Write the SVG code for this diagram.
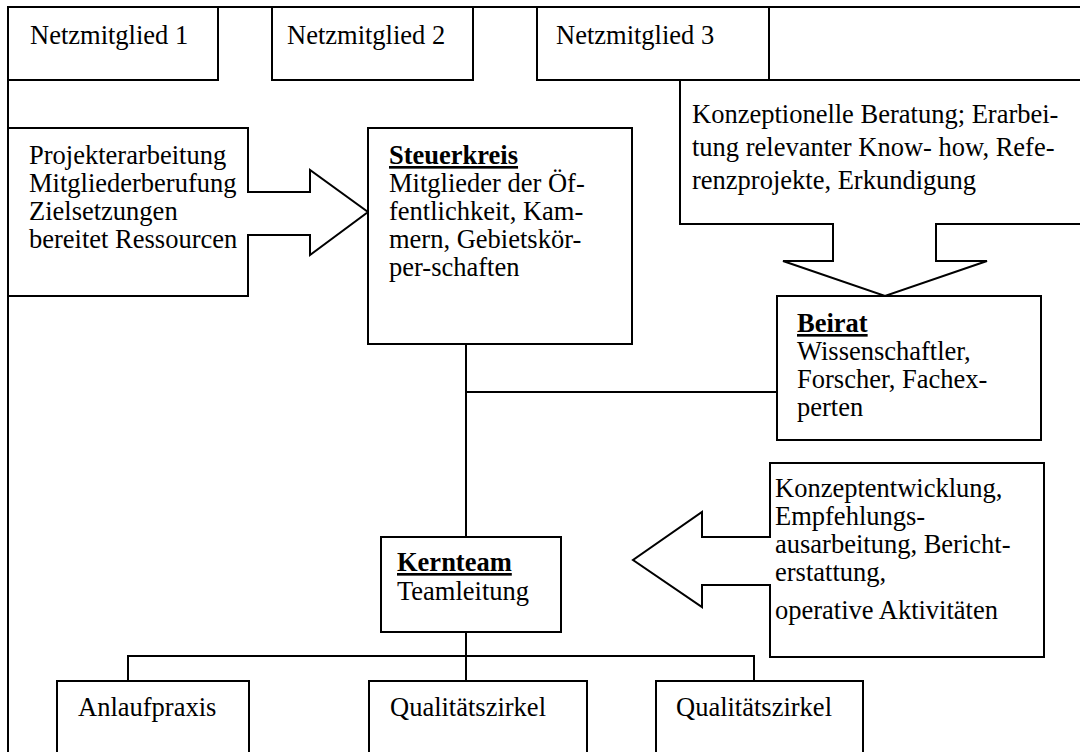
<svg xmlns="http://www.w3.org/2000/svg" width="1080" height="752" viewBox="0 0 1080 752">
  <style>
    .box { fill: #fff; stroke: #000; stroke-width: 2; }
    .ln { fill: none; stroke: #000; stroke-width: 2; }
    .t { font-family: "Liberation Serif", "Times New Roman", serif; font-size: 26.5px; fill: #000; }
    .h { font-weight: bold; text-decoration: underline; }
  </style>

  <rect width="1080" height="752" fill="#fff"/>

  <!-- outer frame: top edge and left edge -->
  <g id="frame">
    <line class="ln" x1="8" y1="7" x2="1080" y2="7" stroke-width="2.5"/>
    <line class="ln" x1="8" y1="7" x2="8" y2="752"/>
  </g>

  <!-- member row -->
  <g id="netzmitglied1">
    <rect class="box" x="8" y="7" width="210" height="73"/>
    <text class="t" x="30" y="44">Netzmitglied 1</text>
  </g>
  <g id="netzmitglied2">
    <rect class="box" x="272" y="7" width="201" height="73"/>
    <text class="t" x="287" y="44">Netzmitglied 2</text>
  </g>
  <g id="netzmitglied3">
    <rect class="box" x="537" y="7" width="232" height="73"/>
    <text class="t" x="556" y="44">Netzmitglied 3</text>
  </g>
  <g id="netzmitglied-leer">
    <rect class="box" x="769" y="7" width="330" height="73"/>
  </g>

  <!-- input callout with block arrow to the steering committee -->
  <g id="aufgaben-steuerkreis">
    <path class="box" d="M8,128 H248 V192 H310 V170 L368,212 L310,255 V235 H248 V296 H8 Z"/>
    <text class="t" x="29" y="164">Projekterarbeitung</text>
    <text class="t" x="29" y="192">Mitgliederberufung</text>
    <text class="t" x="29" y="220">Zielsetzungen</text>
    <text class="t" x="29" y="248">bereitet Ressourcen</text>
  </g>

  <g id="steuerkreis">
    <rect class="box" x="368" y="128" width="264" height="216"/>
    <text class="t h" x="389" y="164">Steuerkreis</text>
    <text class="t" x="389" y="192">Mitglieder der Öf-</text>
    <text class="t" x="389" y="220">fentlichkeit, Kam-</text>
    <text class="t" x="389" y="248">mern, Gebietskör-</text>
    <text class="t" x="389" y="276">per-schaften</text>
  </g>

  <!-- advisory callout with block arrow down to the board -->
  <g id="aufgaben-beirat">
    <path class="box" d="M1090,80 H680 V224 H833 V261 H783 L885,296 L987,261 H936 V224 H1090"/>
    <text class="t" x="692" y="123">Konzeptionelle Beratung; Erarbei-</text>
    <text class="t" x="692" y="156">tung relevanter Know- how, Refe-</text>
    <text class="t" x="692" y="189">renzprojekte, Erkundigung</text>
  </g>

  <g id="beirat">
    <rect class="box" x="777" y="296" width="264" height="144"/>
    <text class="t h" x="797" y="332">Beirat</text>
    <text class="t" x="797" y="360">Wissenschaftler,</text>
    <text class="t" x="797" y="388">Forscher, Fachex-</text>
    <text class="t" x="797" y="416">perten</text>
  </g>

  <!-- connectors -->
  <g id="connectors" class="ln" stroke-width="1.8">
    <line x1="466" y1="344" x2="466" y2="537"/>
    <line x1="466" y1="392" x2="777" y2="392"/>
    <line x1="466" y1="632" x2="466" y2="681"/>
    <polyline points="128,681 128,656 754,656 754,681"/>
  </g>

  <g id="kernteam">
    <rect class="box" x="381" y="537" width="180" height="95"/>
    <text class="t h" x="397" y="571">Kernteam</text>
    <text class="t" x="397" y="600">Teamleitung</text>
  </g>

  <!-- work-package callout with block arrow left to the core team -->
  <g id="aufgaben-kernteam">
    <path class="box" d="M770,463 H1044 V657 H770 V585 H702 V607 L633,560 L702,512 V537 H770 Z"/>
    <text class="t" x="775" y="497">Konzeptentwicklung,</text>
    <text class="t" x="775" y="525">Empfehlungs-</text>
    <text class="t" x="775" y="553">ausarbeitung, Bericht-</text>
    <text class="t" x="775" y="581">erstattung,</text>
    <text class="t" x="775" y="619">operative Aktivitäten</text>
  </g>

  <g id="anlaufpraxis">
    <rect class="box" x="57" y="681" width="192" height="90"/>
    <text class="t" x="78" y="716">Anlaufpraxis</text>
  </g>
  <g id="qualitaetszirkel1">
    <rect class="box" x="369" y="681" width="218" height="90"/>
    <text class="t" x="390" y="716">Qualitätszirkel</text>
  </g>
  <g id="qualitaetszirkel2">
    <rect class="box" x="656" y="681" width="207" height="90"/>
    <text class="t" x="676" y="716">Qualitätszirkel</text>
  </g>
</svg>
